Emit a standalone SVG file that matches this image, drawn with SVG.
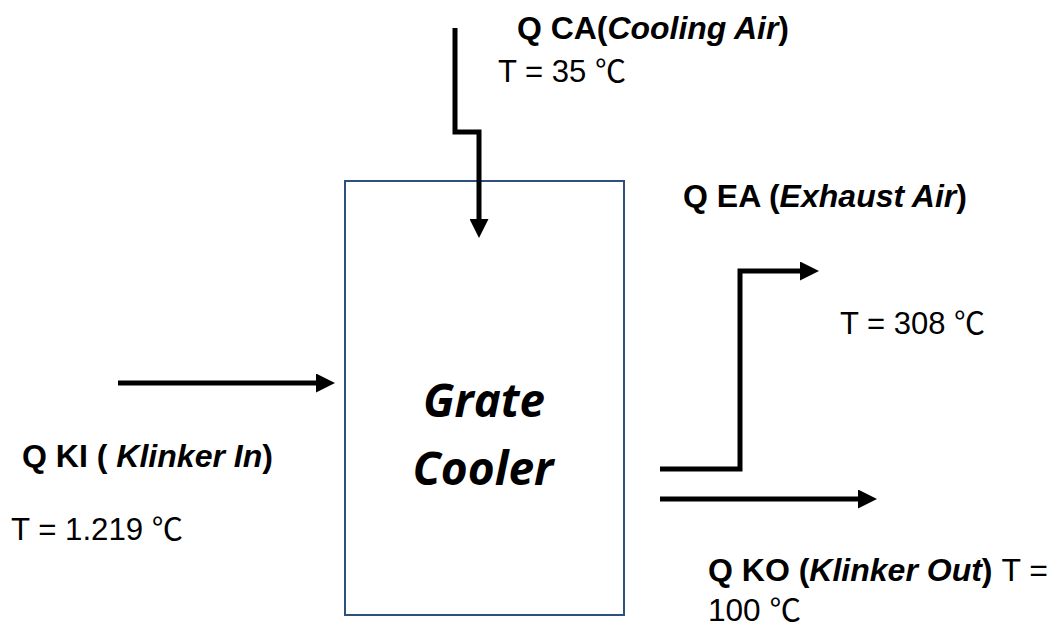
<svg xmlns="http://www.w3.org/2000/svg" width="1056" height="628" viewBox="0 0 1056 628">
  <defs>
    <marker id="ah" markerUnits="userSpaceOnUse" markerWidth="19" markerHeight="19" viewBox="0 0 18 18" refX="0" refY="9" orient="auto">
      <path d="M0,0 L18,9 L0,18 z" fill="#000"/>
    </marker>
  </defs>
  <style>
    .flow { fill: none; stroke: #000; stroke-width: 5; stroke-linejoin: miter; marker-end: url(#ah); }
    .box { fill: #fff; stroke: #2F4F80; stroke-width: 2; }
    .lbl { font-family: "Liberation Sans", Arial, sans-serif; font-size: 31px; font-weight: bold; fill: #000; }
    .lbl .it { font-style: italic; }
    .val { font-family: "Liberation Sans", Arial, "Noto Sans CJK SC", sans-serif; font-size: 31px; font-weight: normal; fill: #000; }
    .title { font-family: "Open Sans", "Noto Sans", sans-serif; font-size: 47px; font-weight: bold; font-style: italic; fill: #000; text-anchor: middle; }
  </style>
  <rect width="1056" height="628" fill="#fff"/>

  <g id="grate-cooler">
    <rect class="box" x="345" y="181" width="279" height="434"/>
    <text class="title" x="484" y="417" textLength="122" lengthAdjust="spacingAndGlyphs">Grate</text>
    <text class="title" x="483" y="485" textLength="141" lengthAdjust="spacingAndGlyphs">Cooler</text>
  </g>

  <g id="connectors">
    <path id="flow-ca" class="flow" d="M455,28 V132 H479 V219"/>
    <path id="flow-ki" class="flow" d="M118,383 H316"/>
    <path id="flow-ea" class="flow" d="M660,469 H740 V271 H800"/>
    <path id="flow-ko" class="flow" d="M660,499 H858"/>
  </g>

  <g id="label-ca">
    <text class="lbl" x="517" y="39" textLength="272" lengthAdjust="spacingAndGlyphs">Q CA(<tspan class="it">Cooling Air</tspan>)</text>
    <text class="val" x="498" y="82" textLength="128" lengthAdjust="spacingAndGlyphs">T = 35 ℃</text>
  </g>

  <g id="label-ea">
    <text class="lbl" x="683" y="207" textLength="284" lengthAdjust="spacingAndGlyphs">Q EA (<tspan class="it">Exhaust Air</tspan>)</text>
    <text class="val" x="840" y="334" textLength="145" lengthAdjust="spacingAndGlyphs">T = 308 ℃</text>
  </g>

  <g id="label-ki">
    <text class="lbl" x="22" y="467" textLength="251" lengthAdjust="spacingAndGlyphs">Q KI ( <tspan class="it">Klinker In</tspan>)</text>
    <text class="val" x="11" y="540" textLength="172" lengthAdjust="spacingAndGlyphs">T = 1.219 ℃</text>
  </g>

  <g id="label-ko">
    <text class="lbl" x="708" y="581" textLength="340" lengthAdjust="spacingAndGlyphs">Q KO (<tspan class="it">Klinker Out</tspan>) <tspan font-weight="normal">T =</tspan></text>
    <text class="val" x="708" y="621" textLength="93" lengthAdjust="spacingAndGlyphs">100 ℃</text>
  </g>
</svg>
